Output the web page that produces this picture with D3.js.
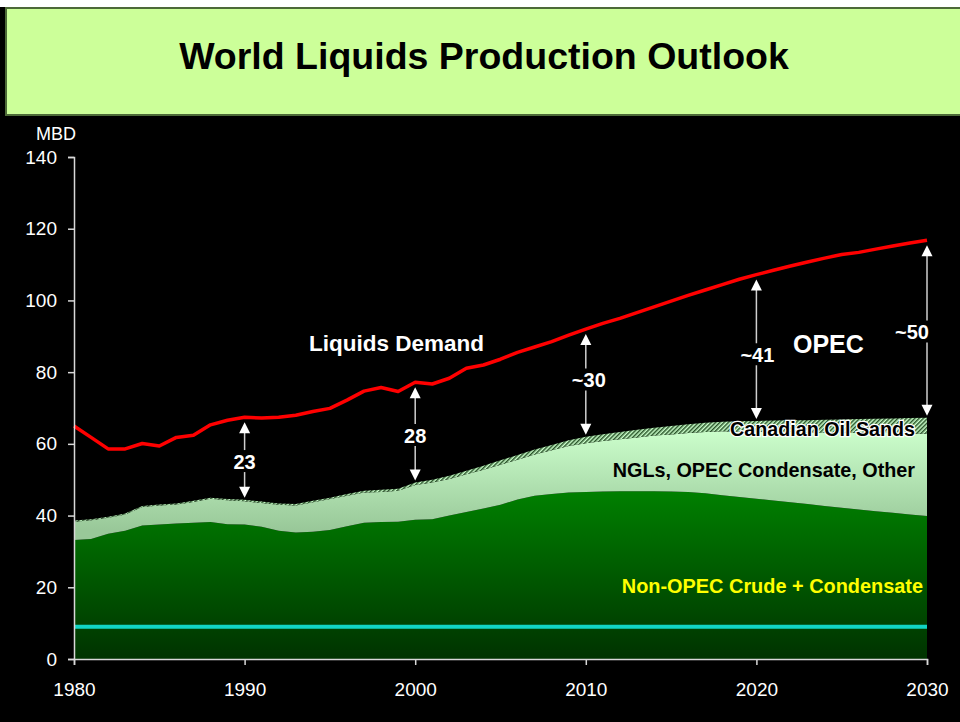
<!DOCTYPE html>
<html>
<head>
<meta charset="utf-8">
<script src="https://cdn.jsdelivr.net/npm/d3@7"></script>
<style>
  body { margin: 0; background: #000; }
  svg { display: block; }
</style>
</head>
<body>
<svg id="chart" width="960" height="722"></svg>
<script>

const years = d3.range(1980, 2031);

// MBD
const liquidsDemand = [
  65.0, 61.8, 58.6, 58.6, 60.1, 59.4, 61.8, 62.4, 65.3, 66.6,
  67.4, 67.2, 67.4, 68.0, 69.0, 69.9, 72.2, 74.7, 75.7, 74.6,
  77.2, 76.7, 78.3, 81.1, 82.0, 83.6, 85.5, 87.0, 88.5, 90.3,
  92.0, 93.6, 95.0, 96.6, 98.2, 99.8, 101.4, 102.9, 104.4, 105.9,
  107.2, 108.4, 109.6, 110.7, 111.8, 112.8, 113.4, 114.3, 115.2, 116.0,
  116.8
];

const nonOpecCrude = [
  33.2, 33.5, 34.9, 35.8, 37.2, 37.5, 37.8, 38.0, 38.2, 37.6,
  37.5, 36.9, 35.8, 35.3, 35.5, 36.0, 37.0, 38.0, 38.2, 38.3,
  38.8, 39.0, 40.0, 41.0, 42.0, 43.0, 44.5, 45.5, 46.0, 46.4,
  46.6, 46.7, 46.8, 46.8, 46.8, 46.7, 46.6, 46.2, 45.7, 45.2,
  44.7, 44.2, 43.7, 43.2, 42.7, 42.2, 41.7, 41.2, 40.8, 40.3,
  39.9
];

const nglOther = [
  5.1, 5.2, 4.5, 4.5, 5.2, 5.3, 5.3, 5.8, 6.5, 6.7,
  6.5, 6.6, 7.2, 7.5, 8.2, 8.6, 8.5, 8.4, 8.4, 8.6,
  9.7, 10.2, 10.2, 10.5, 10.8, 11.2, 11.1, 11.5, 12.2, 13.0,
  13.6, 14.1, 14.5, 15.0, 15.5, 15.9, 16.4, 17.1, 17.8, 18.2,
  18.7, 19.2, 19.6, 20.0, 20.5, 20.9, 21.4, 21.8, 22.2, 22.6,
  22.9
];

const canadianOilSands = [
  0.3, 0.3, 0.3, 0.3, 0.3, 0.3, 0.3, 0.3, 0.3, 0.3,
  0.4, 0.4, 0.4, 0.4, 0.4, 0.4, 0.5, 0.5, 0.6, 0.6,
  0.7, 0.8, 0.9, 1.0, 1.1, 1.2, 1.3, 1.4, 1.5, 1.6,
  1.8, 1.9, 2.0, 2.1, 2.2, 2.4, 2.5, 2.6, 2.7, 2.9,
  3.0, 3.1, 3.3, 3.4, 3.5, 3.7, 3.8, 4.0, 4.1, 4.3,
  4.5
];

const cyanLevel = 9;

const gapYears = [1990, 2000, 2010, 2020, 2030];
const gapLabels = ['23', '28', '~30', '~41', '~50'];

const xTicks = [1980, 1990, 2000, 2010, 2020, 2030];
const yTicks = [0, 20, 40, 60, 80, 100, 120, 140];


const svg = d3.select('#chart');
const W = 960, H = 722;
const margin = { left: 74, right: 33, top: 157, bottom: 63 };

const x = d3.scaleLinear().domain([1980, 2030]).range([margin.left, W - margin.right]);
const y = d3.scaleLinear().domain([0, 140]).range([H - margin.bottom, margin.top]);

const rows = years.map((yr, i) => ({
  year: yr,
  nonOpec: nonOpecCrude[i],
  ngl: nglOther[i],
  sands: canadianOilSands[i],
  demand: liquidsDemand[i]
}));

const stacked = d3.stack().keys(['nonOpec', 'ngl', 'sands'])(rows);
const supplyTop = (i) => stacked[2][i][1];


// header band
svg.append('rect')
    .attr('x', 0).attr('y', 0)
    .attr('width', W).attr('height', 7)
    .attr('fill', '#fff');

svg.append('rect')
    .attr('x', 6).attr('y', 8)
    .attr('width', W).attr('height', 107)
    .attr('fill', '#ccff99')
    .attr('stroke', '#4d6a38')
    .attr('stroke-width', 2);

svg.append('text')
    .text('World Liquids Production Outlook')
    .attr('x', 484).attr('y', 69)
    .attr('text-anchor', 'middle')
    .style('font-family', 'Liberation Sans, Arial, sans-serif')
    .style('font-size', '37.5px')
    .style('font-weight', '700')
    .attr('fill', '#000');


// fills
const defs = svg.append('defs');

const darkGrad = defs.append('linearGradient')
    .attr('id', 'darkGrad')
    .attr('gradientUnits', 'userSpaceOnUse')
    .attr('x1', 0).attr('x2', 0)
    .attr('y1', y(47)).attr('y2', y(0));
darkGrad.append('stop').attr('offset', 0).attr('stop-color', '#008000');
darkGrad.append('stop').attr('offset', 1).attr('stop-color', '#003300');

const lightGrad = defs.append('linearGradient')
    .attr('id', 'lightGrad')
    .attr('gradientUnits', 'userSpaceOnUse')
    .attr('x1', 0).attr('x2', 0)
    .attr('y1', y(64)).attr('y2', y(36));
lightGrad.append('stop').attr('offset', 0).attr('stop-color', '#ccffcc');
lightGrad.append('stop').attr('offset', 1).attr('stop-color', '#99c899');

const hatch = defs.append('pattern')
    .attr('id', 'hatch')
    .attr('patternUnits', 'userSpaceOnUse')
    .attr('width', 3).attr('height', 3)
    .attr('patternTransform', 'rotate(45)');
hatch.append('rect').attr('width', 3).attr('height', 3).attr('fill', '#ccffcc');
hatch.append('rect').attr('width', 1.5).attr('height', 3).attr('fill', '#2a552a');

const layerFill = ['url(#darkGrad)', 'url(#lightGrad)', 'url(#hatch)'];

const area = d3.area()
    .x((d) => x(d.data.year))
    .y0((d) => y(d[0]))
    .y1((d) => y(d[1]));

svg.append('g')
    .selectAll('path')
    .data(stacked)
    .enter()
    .append('path')
      .attr('d', area)
      .attr('fill', (d, i) => layerFill[i]);

// cyan reference line
svg.append('line')
    .attr('x1', x(1980)).attr('x2', x(2030))
    .attr('y1', y(cyanLevel)).attr('y2', y(cyanLevel))
    .attr('stroke', '#11d4c4')
    .attr('stroke-width', 4);

// demand line
svg.append('path')
    .datum(rows)
    .attr('d', d3.line().x((d) => x(d.year)).y((d) => y(d.demand)))
    .attr('fill', 'none')
    .attr('stroke', '#ff0000')
    .attr('stroke-width', 3.5)
    .attr('stroke-linejoin', 'round');


// axes
const axisFont = (g) => g.selectAll('text')
    .style('font-family', 'Liberation Sans, Arial, sans-serif')
    .style('font-size', '19px')
    .attr('fill', '#fff');

svg.append('g')
    .attr('transform', `translate(${margin.left},0)`)
    .call(d3.axisLeft(y).tickValues(yTicks).tickSize(6).tickPadding(11))
    .call(axisFont)
    .call((g) => g.selectAll('path, line').attr('stroke', '#d8d8d8').attr('stroke-width', 1.5));

svg.append('g')
    .attr('transform', `translate(0,${y(0)})`)
    .call(d3.axisBottom(x).tickValues(xTicks).tickFormat(d3.format('d')).tickSize(6).tickPadding(18))
    .call(axisFont)
    .call((g) => g.selectAll('path, line').attr('stroke', '#d8d8d8').attr('stroke-width', 1.5));

svg.append('text')
    .text('MBD')
    .attr('x', 36).attr('y', 140)
    .style('font-family', 'Liberation Sans, Arial, sans-serif')
    .style('font-size', '18px')
    .attr('fill', '#fff');


// gap arrows
const labelFont = (sel, size) => sel
    .style('font-family', 'Liberation Sans, Arial, sans-serif')
    .style('font-size', size)
    .style('font-weight', '700');

const nudge = { '~30': [3, -6], '~41': [1, 4], '~50': [-15, 0] };

gapYears.forEach((yr, k) => {
  const i = years.indexOf(yr);
  const cx = x(yr);
  const top = y(liquidsDemand[i]) + 5;
  const bottom = y(supplyTop(i)) - 2;
  const label = gapLabels[k];
  const [dx, dy] = nudge[label] || [0, 0];
  const base = (top + bottom) / 2 + 9 + dy;

  const g = svg.append('g');
  g.append('line')
      .attr('x1', cx).attr('x2', cx)
      .attr('y1', top + 10).attr('y2', base - 19)
      .attr('stroke', '#cfcfcf').attr('stroke-width', 1.5);
  g.append('line')
      .attr('x1', cx).attr('x2', cx)
      .attr('y1', base + 3).attr('y2', bottom - 10)
      .attr('stroke', '#cfcfcf').attr('stroke-width', 1.5);
  g.append('path')
      .attr('d', `M${cx},${top} L${cx - 5.5},${top + 11} L${cx + 5.5},${top + 11} Z`)
      .attr('fill', '#fff');
  g.append('path')
      .attr('d', `M${cx},${bottom} L${cx - 5.5},${bottom - 11} L${cx + 5.5},${bottom - 11} Z`)
      .attr('fill', '#fff');
  g.append('text')
      .text(label)
      .attr('x', cx + dx).attr('y', base)
      .attr('text-anchor', 'middle')
      .attr('fill', '#fff')
      .call(labelFont, '20px');
});


// series labels
svg.append('text')
    .text('Liquids Demand')
    .attr('x', 309).attr('y', 351)
    .attr('fill', '#fff')
    .call(labelFont, '22.5px');

svg.append('text')
    .text('OPEC')
    .attr('x', 793).attr('y', 353)
    .attr('fill', '#fff')
    .call(labelFont, '25px');

svg.append('text')
    .text('Canadian Oil Sands')
    .attr('x', 915).attr('y', 436)
    .attr('text-anchor', 'end')
    .attr('fill', '#000')
    .attr('stroke', '#fff')
    .attr('stroke-width', 2.5)
    .attr('paint-order', 'stroke')
    .call(labelFont, '19.7px');

svg.append('text')
    .text('NGLs, OPEC Condensate, Other')
    .attr('x', 915).attr('y', 477)
    .attr('text-anchor', 'end')
    .attr('fill', '#000')
    .call(labelFont, '19.8px');

svg.append('text')
    .text('Non-OPEC Crude + Condensate')
    .attr('x', 923).attr('y', 593)
    .attr('text-anchor', 'end')
    .attr('fill', '#ffff00')
    .call(labelFont, '19.9px');

</script>
</body>
</html>
